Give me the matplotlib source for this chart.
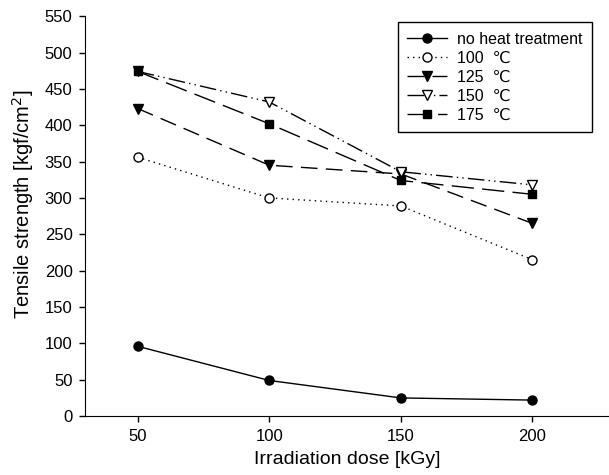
import matplotlib
matplotlib.use('Agg')
from matplotlib import pyplot as plt

# data
dose = [50, 100, 150, 200]
no_heat = [96, 49, 25, 22]
t100 = [356, 300, 289, 215]
t125 = [423, 345, 333, 265]
t150 = [474, 432, 336, 318]
t175 = [474, 402, 324, 305]

labels = ['no heat treatment', '100  \u2103', '125  \u2103', '150  \u2103', '175  \u2103']
yticks = list(range(0, 551, 50))
xticks = [50, 100, 150, 200]

plt.rcParams['font.family'] = ['Liberation Sans', 'DejaVu Sans']

fig = plt.figure(figsize=(6.09, 4.75), dpi=100)
ax = fig.add_axes([0.1396, 0.124, 0.86, 0.842])

ms = 6.5
ax.plot(dose, no_heat, '-', color='k', lw=1, marker='o', ms=ms, label=labels[0])
ax.plot(dose, t100, color='k', lw=1, ls=(0, (1, 3)), marker='o', mfc='white', ms=ms, label=labels[1])
ax.plot(dose, t125, color='k', lw=1, ls=(0, (12, 6)), marker='v', ms=ms, label=labels[2])
ax.plot(dose, t150, color='k', lw=1, ls=(0, (12, 3, 1, 3, 1, 3)), marker='v', mfc='white', ms=ms, label=labels[3])
ax.plot(dose, t175, color='k', lw=1, ls=(0, (16, 6)), marker='s', ms=ms - 0.5, label=labels[4])

ax.set_xlim(30, 229)
ax.set_ylim(0, 550)
ax.set_xticks(xticks)
ax.set_yticks(yticks)
ax.tick_params(labelsize=12, direction='out', length=4, width=1, pad=5)
ax.spines['top'].set_visible(False)
ax.spines['right'].set_visible(False)

ax.set_xlabel('Irradiation dose [kGy]', fontsize=14, labelpad=5)
ax.set_ylabel('Tensile strength [kgf/cm$^2$]', fontsize=14.5)
ax.yaxis.set_label_coords(-0.094, 0.53)

leg = ax.legend(loc='upper left', bbox_to_anchor=(0.597, 0.985), fontsize=11.5,
                frameon=True, fancybox=False, edgecolor='k', framealpha=1,
                handlelength=2.5, handletextpad=0.6, labelspacing=0.25,
                borderpad=0.6, borderaxespad=0)
leg.get_frame().set_linewidth(1)

fig.savefig('out.png', dpi=100)
